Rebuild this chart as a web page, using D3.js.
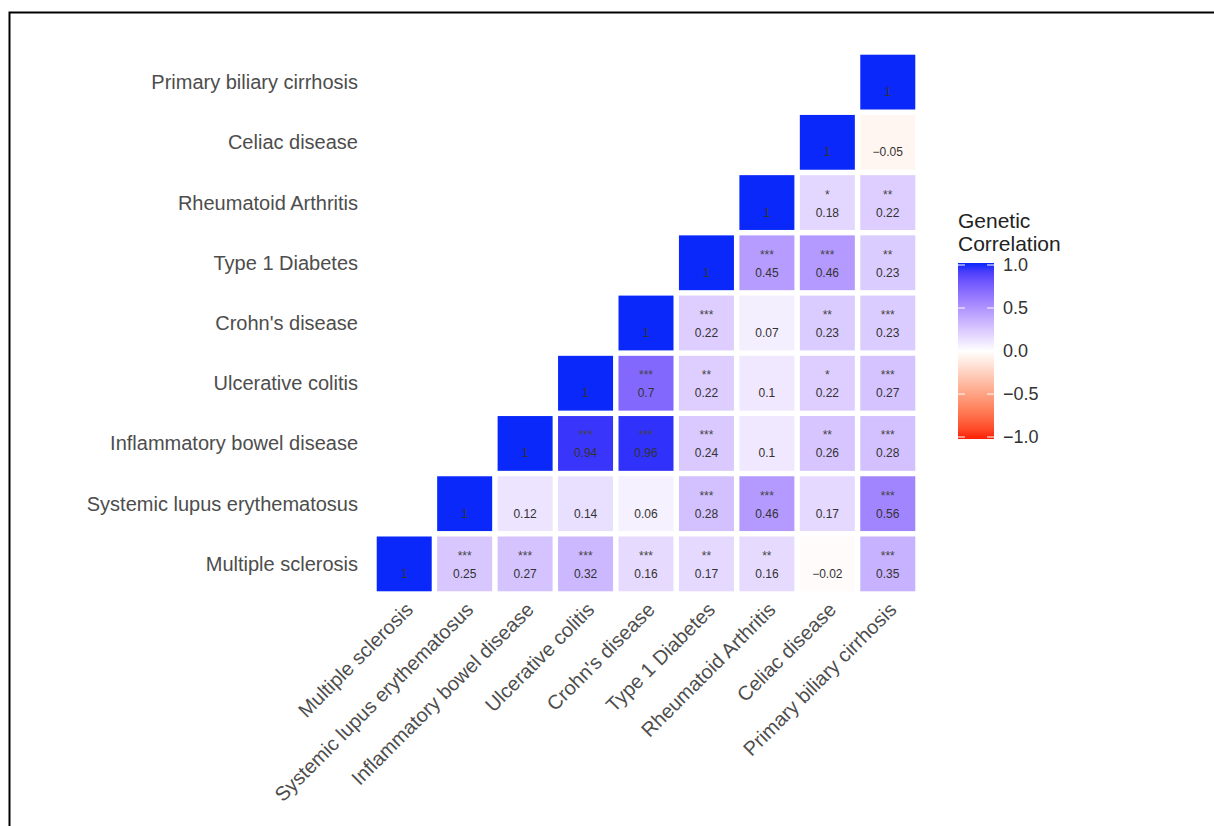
<!DOCTYPE html>
<html>
<head>
<meta charset="utf-8">
<script src="https://cdn.jsdelivr.net/npm/d3@7"></script>
<style>
  body { margin: 0; background: #fff; }
  svg text { font-family: "Liberation Sans", Arial, sans-serif; }
</style>
</head>
<body>
<div id="chart"></div>
<script>
// diseases, in the order used on both axes (x left->right, y bottom->top)
const diseases = [
  "Multiple sclerosis",
  "Systemic lupus erythematosus",
  "Inflammatory bowel disease",
  "Ulcerative colitis",
  "Crohn's disease",
  "Type 1 Diabetes",
  "Rheumatoid Arthritis",
  "Celiac disease",
  "Primary biliary cirrhosis"
];

// upper triangle, one row per disease, values start at the diagonal
const corrRows = [
  [1, 0.25, 0.27, 0.32, 0.16, 0.17, 0.16, -0.02, 0.35],
  [1, 0.12, 0.14, 0.06, 0.28, 0.46, 0.17, 0.56],
  [1, 0.94, 0.96, 0.24, 0.1, 0.26, 0.28],
  [1, 0.7, 0.22, 0.1, 0.22, 0.27],
  [1, 0.22, 0.07, 0.23, 0.23],
  [1, 0.45, 0.46, 0.23],
  [1, 0.18, 0.22],
  [1, -0.05],
  [1]
];

// significance stars, same layout
const starRows = [
  ["", "***", "***", "***", "***", "**", "**", "", "***"],
  ["", "", "", "", "***", "***", "", "***"],
  ["", "***", "***", "***", "", "**", "***"],
  ["", "***", "**", "", "*", "***"],
  ["", "***", "", "**", "***"],
  ["", "***", "***", "**"],
  ["", "*", "**"],
  ["", ""],
  [""]
];

const legendTicks = [1.0, 0.5, 0.0, -0.5, -1.0];

const cells = [];
corrRows.forEach((row, i) => {
  row.forEach((v, k) => {
    cells.push({ row: diseases[i], col: diseases[i + k], value: v, stars: starRows[i][k] });
  });
});

const W = 1214, H = 826;
const svg = d3.select("#chart").append("svg")
  .attr("width", W)
  .attr("height", H);

// frame
svg.append("path")
  .attr("d", `M9.5,${H} L9.5,12.5 L${W},12.5`)
  .attr("fill", "none")
  .attr("stroke", "#000")
  .attr("stroke-width", 2);

const x = d3.scaleBand()
  .domain(diseases)
  .range([374, 918])
  .paddingInner(0.09)
  .paddingOuter(0.045);

const y = d3.scaleBand()
  .domain(diseases.slice().reverse())
  .range([52, 594])
  .paddingInner(0.09)
  .paddingOuter(0.045);

const color = d3.scaleLinear()
  .domain([-1, 0, 1])
  .range(["#fa1e05", "#ffffff", "#0a28fa"])
  .interpolate(d3.interpolateLab);

const fmt = v => (v < 0 ? "\u2212" : "") + String(Math.abs(v));

// tiles
svg.selectAll("rect.tile")
  .data(cells)
  .enter()
  .append("rect")
  .attr("class", "tile")
  .attr("x", d => x(d.col))
  .attr("y", d => y(d.row))
  .attr("width", x.bandwidth())
  .attr("height", y.bandwidth())
  .attr("fill", d => color(d.value));

// values
svg.selectAll("text.val")
  .data(cells)
  .enter()
  .append("text")
  .attr("class", "val")
  .attr("x", d => x(d.col) + x.bandwidth() / 2)
  .attr("y", d => y(d.row) + y.bandwidth() / 2 + 14)
  .attr("text-anchor", "middle")
  .style("font-size", "12px")
  .style("fill", "#333")
  .text(d => fmt(d.value));

// stars
svg.selectAll("text.star")
  .data(cells.filter(d => d.stars))
  .enter()
  .append("text")
  .attr("class", "star")
  .attr("x", d => x(d.col) + x.bandwidth() / 2)
  .attr("y", d => y(d.row) + y.bandwidth() / 2 - 4)
  .attr("text-anchor", "middle")
  .style("font-size", "12px")
  .style("fill", "#444")
  .text(d => d.stars);

// y axis labels
svg.selectAll("text.ylab")
  .data(diseases)
  .enter()
  .append("text")
  .attr("class", "ylab")
  .attr("x", 358)
  .attr("y", d => y(d) + y.bandwidth() / 2)
  .attr("dy", "0.35em")
  .attr("text-anchor", "end")
  .style("font-size", "20px")
  .style("fill", "#4d4d4d")
  .text(d => d);

// x axis labels, rotated
svg.selectAll("text.xlab")
  .data(diseases)
  .enter()
  .append("text")
  .attr("class", "xlab")
  .attr("transform", d => `translate(${x(d) + x.bandwidth() / 2 + 10},611) rotate(-45)`)
  .attr("text-anchor", "end")
  .style("font-size", "20px")
  .style("fill", "#4d4d4d")
  .text(d => d);

// legend
const lg = svg.append("g").attr("transform", "translate(958,0)");
lg.append("text").attr("x", 0).attr("y", 228)
  .style("font-size", "21px").style("fill", "#222").text("Genetic");
lg.append("text").attr("x", 0).attr("y", 251)
  .style("font-size", "21px").style("fill", "#222").text("Correlation");

const ly = d3.scaleLinear().domain([1, -1]).range([265, 437]);
const barW = 36;

const defs = svg.append("defs");
const grad = defs.append("linearGradient")
  .attr("id", "corrGrad")
  .attr("x1", 0).attr("y1", 0).attr("x2", 0).attr("y2", 1);
d3.range(0, 21).forEach(i => {
  const v = 1 - i / 10;
  grad.append("stop")
    .attr("offset", (i / 20 * 100) + "%")
    .attr("stop-color", color(v));
});

lg.append("rect")
  .attr("x", 0)
  .attr("y", ly(1) - 2)
  .attr("width", barW)
  .attr("height", ly(-1) - ly(1) + 4)
  .attr("fill", "url(#corrGrad)");

lg.selectAll("line.tl")
  .data(legendTicks)
  .enter()
  .append("line")
  .attr("x1", 0).attr("x2", 7)
  .attr("y1", d => ly(d)).attr("y2", d => ly(d))
  .attr("stroke", "#fff");
lg.selectAll("line.tr")
  .data(legendTicks)
  .enter()
  .append("line")
  .attr("x1", barW - 7).attr("x2", barW)
  .attr("y1", d => ly(d)).attr("y2", d => ly(d))
  .attr("stroke", "#fff");

lg.selectAll("text.tick")
  .data(legendTicks)
  .enter()
  .append("text")
  .attr("x", barW + 9)
  .attr("y", d => ly(d))
  .attr("dy", "0.35em")
  .style("font-size", "18px")
  .style("fill", "#333")
  .text(d => d3.format(".1f")(d).replace("-", "\u2212"));
</script>
</body>
</html>
